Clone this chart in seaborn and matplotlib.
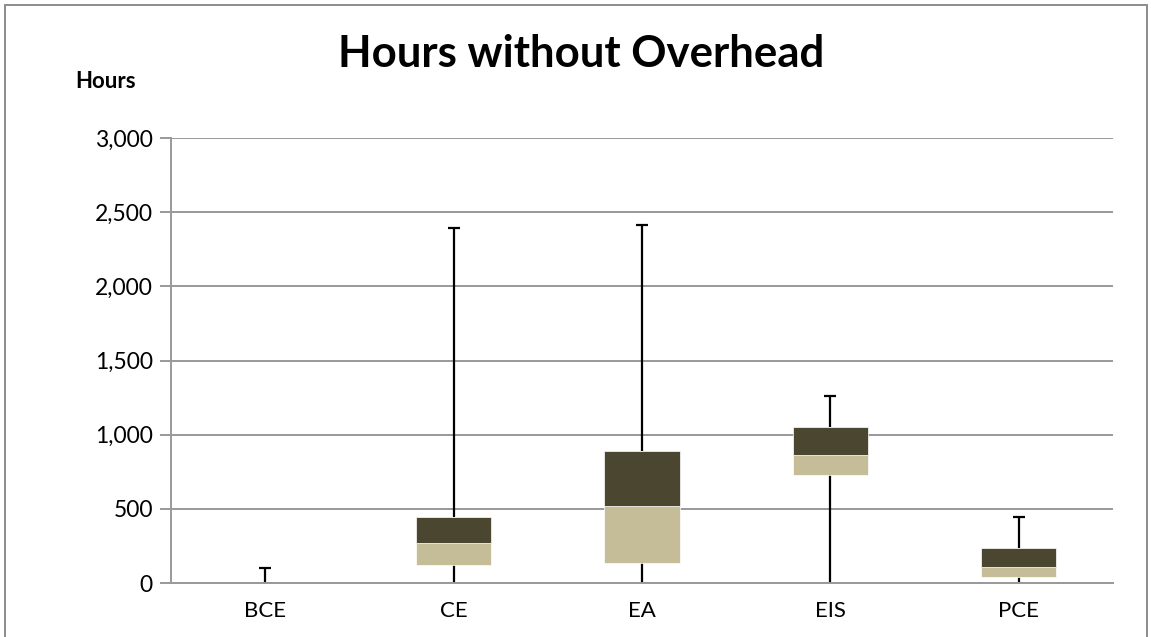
import numpy as np
import pandas as pd
import seaborn as sns
import matplotlib.pyplot as plt
from matplotlib.patches import Rectangle
from matplotlib.ticker import FuncFormatter

# Дані: квартилі та межі вусів (години без накладних)
groups = ['BCE', 'CE', 'EA', 'EIS', 'PCE']
q_min = [0, 0, 0, 0, 5]
q1 = [0, 123, 137, 726, 40]
median = [0, 270, 517, 863, 106]
q3 = [0, 447, 892, 1054, 236]
q_max = [100, 2395, 2415, 1260, 443]

df = pd.DataFrame({'group': groups, 'min': q_min, 'q1': q1, 'median': median,
                   'q3': q3, 'max': q_max})
df['low_part'] = df['median'] - df['q1']
df['high_part'] = df['q3'] - df['median']

sns.set_style('white')
plt.rcParams['font.family'] = ['Lato', 'DejaVu Sans']

dark = '#4b4630'
light = '#c4bd97'
grid_c = '#999999'

fig = plt.figure(figsize=(11.51, 6.37), dpi=100)
ax = fig.add_axes([171 / 1151, 1 - 583 / 637, (1113 - 171) / 1151, (583 - 138) / 637])

# вуси
x = np.arange(len(groups))
ax.vlines(x, df['q3'], df['max'], color='black', linewidth=1.6, zorder=2)
ax.vlines(x, df['min'], df['q1'], color='black', linewidth=1.6, zorder=2)
ax.plot(x, df['max'], linestyle='none', marker='_', markersize=9,
        markeredgewidth=1.6, color='black', zorder=2)

# коробки
sns.barplot(data=df, x='group', y='low_part', bottom=df['q1'], color=light,
            width=0.4, saturation=1, ax=ax, zorder=3, edgecolor='white', linewidth=0.5)
sns.barplot(data=df, x='group', y='high_part', bottom=df['median'], color=dark,
            width=0.4, saturation=1, ax=ax, zorder=3, edgecolor='white', linewidth=0.5)

ax.set_ylim(0, 3000)
ax.set_xlim(-0.5, len(groups) - 0.5)
ax.set_yticks(range(0, 3001, 500))
ax.yaxis.set_major_formatter(FuncFormatter(lambda v, p: f'{int(v):,}'))
ax.yaxis.grid(True, color=grid_c, linewidth=1.4, zorder=0)
ax.set_axisbelow(True)
ax.set_xlabel('')
ax.set_ylabel('')

for s in ['top', 'right']:
    ax.spines[s].set_visible(False)
for s in ['left', 'bottom']:
    ax.spines[s].set_color(grid_c)
    ax.spines[s].set_linewidth(1.4)

ax.set_xticks(np.arange(-0.5, len(groups)), minor=True)
ax.tick_params(axis='x', which='major', length=0, labelsize=16, pad=13, colors='black')
ax.tick_params(axis='x', which='minor', length=7, width=1.4, color=grid_c)
ax.tick_params(axis='y', length=8, width=1.4, color=grid_c, labelsize=16.5, pad=5, labelcolor='black')
ax.tick_params(axis='y', left=True)

fig.text(0.505, 1 - 54 / 637, 'Hours without Overhead', ha='center', va='center',
         fontsize=31.5, fontweight='bold', color='black')
fig.text(106 / 1151, 1 - 82 / 637, 'Hours', ha='center', va='center',
         fontsize=16, fontweight='bold', color='black')

fig.patches.append(Rectangle((5 / 1151, -0.1), 1142 / 1151, 1.1 - 5 / 637,
                             transform=fig.transFigure, fill=False,
                             edgecolor='#8c8c8c', linewidth=1.4))

fig.savefig('out.png', dpi=100)
